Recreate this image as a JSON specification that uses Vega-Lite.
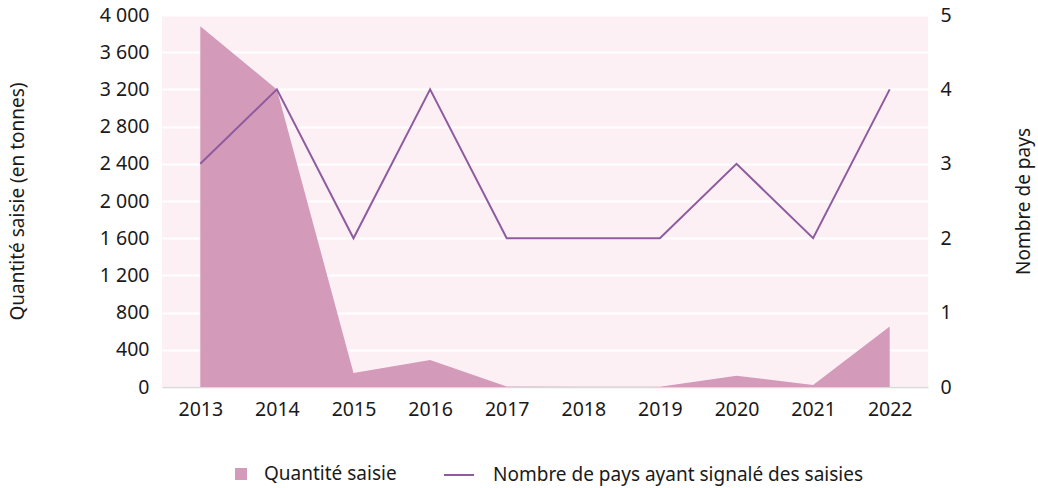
{
  "$schema": "https://vega.github.io/schema/vega-lite/v6.json",
  "width": 766,
  "height": 372,
  "autosize": {"type": "none"},
  "padding": {"left": 162, "top": 15, "right": 110, "bottom": 101},
  "background": "#ffffff",
  "config": {
    "view": {"fill": "#fdf0f5", "stroke": null},
    "font": "Noto Sans",
    "axis": {"labelFont": "Noto Sans", "titleFont": "Noto Sans", "labelFontSize": 19.5, "titleFontSize": 19, "labelColor": "#1a1a1a", "titleColor": "#1a1a1a", "titleFontWeight": "normal", "ticks": false, "domain": false},
    "legend": {"orient": "bottom", "labelFont": "Noto Sans", "labelFontSize": 19, "labelColor": "#1a1a1a", "offset": 40, "labelLimit": 600,
      "layout": {"bottom": {"anchor": "middle", "margin": 46}}}
  },
  "data": {
    "values": [
      {"annee": "2013", "quantite": 3880, "pays": 3},
      {"annee": "2014", "quantite": 3200, "pays": 4},
      {"annee": "2015", "quantite": 150, "pays": 2},
      {"annee": "2016", "quantite": 290, "pays": 4},
      {"annee": "2017", "quantite": 5, "pays": 2},
      {"annee": "2018", "quantite": 2, "pays": 2},
      {"annee": "2019", "quantite": 2, "pays": 2},
      {"annee": "2020", "quantite": 120, "pays": 3},
      {"annee": "2021", "quantite": 22, "pays": 2},
      {"annee": "2022", "quantite": 650, "pays": 4}
    ]
  },
  "encoding": {
    "x": {"field": "annee", "type": "ordinal", "scale": {"type": "point", "padding": 0.5},
      "axis": {"title": null, "labelAngle": 0, "labelPadding": 13, "grid": false, "domain": true, "domainColor": "#d9d9d9", "domainWidth": 1.5}}
  },
  "layer": [
    {
      "mark": {"type": "area", "interpolate": "linear", "opacity": 1},
      "encoding": {
        "y": {"field": "quantite", "type": "quantitative", "scale": {"domain": [0, 4000], "nice": false},
          "axis": {"title": "Quantité saisie (en tonnes)", "values": [0, 400, 800, 1200, 1600, 2000, 2400, 2800, 3200, 3600, 4000],
            "labelExpr": "replace(format(datum.value, ','), ',', ' ')", "labelPadding": 13, "titlePadding": 72,
            "grid": true, "gridColor": "#ffffff", "gridWidth": 2}},
        "fill": {"datum": "Quantité saisie", "type": "nominal",
          "scale": {"domain": ["Quantité saisie"], "range": ["#d39ab9"]},
          "legend": {"title": null, "symbolType": "M-0.4,-0.4H0.4V0.4H-0.4Z", "symbolSize": 900, "symbolOpacity": 1, "labelOffset": 8, "symbolStrokeWidth": 0}}
      }
    },
    {
      "mark": {"type": "line", "strokeWidth": 2},
      "encoding": {
        "y": {"field": "pays", "type": "quantitative", "scale": {"domain": [0, 5], "nice": false},
          "axis": {"orient": "right", "title": "Nombre de pays", "titleAngle": -90, "values": [0, 1, 2, 3, 4, 5], "labelPadding": 12, "titlePadding": 82, "grid": false}},
        "stroke": {"datum": "Nombre de pays ayant signalé des saisies", "type": "nominal",
          "scale": {"domain": ["Nombre de pays ayant signalé des saisies"], "range": ["#8e5b9e"]},
          "legend": {"title": null, "symbolType": "stroke", "symbolSize": 900, "symbolStrokeWidth": 2, "labelOffset": 18}}
      }
    }
  ],
  "resolve": {"scale": {"y": "independent"}}
}
